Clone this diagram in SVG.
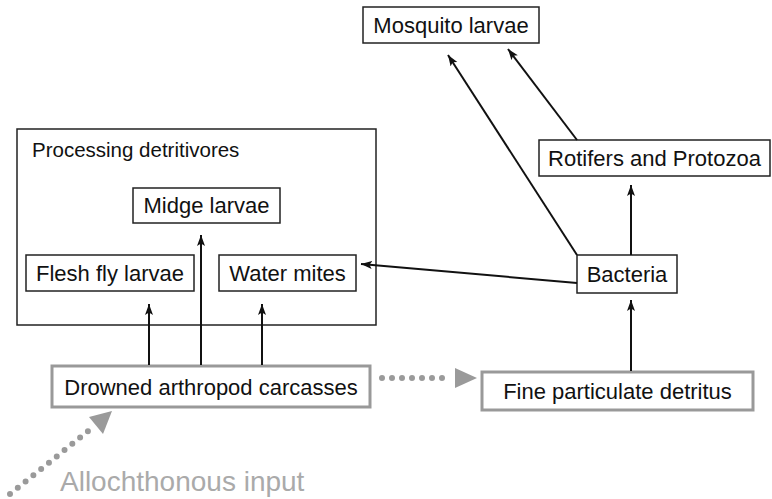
<svg xmlns="http://www.w3.org/2000/svg" width="772" height="499" viewBox="0 0 772 499">
<defs>
<style>
.box{fill:#fff;stroke:#222;stroke-width:1.5}
.gbox{fill:#fff;stroke:#999;stroke-width:3}
.lbl{font-family:"Liberation Sans",Arial,sans-serif;font-size:22px;fill:#111;text-anchor:middle}
.ln{stroke:#111;stroke-width:2;fill:none;marker-end:url(#ah)}
.dot{stroke:#9a9a9a;stroke-width:6;stroke-linecap:round;stroke-dasharray:0 10;fill:none}
</style>
<marker id="ah" markerUnits="userSpaceOnUse" markerWidth="12" markerHeight="10" refX="11" refY="4" orient="auto">
<path d="M0,0 L11,4 L0,8 L2.5,4 Z" fill="#111"/>
</marker>
</defs>
<rect width="772" height="499" fill="#fff"/>
<g id="processing">
<rect class="box" x="17" y="129" width="359" height="196"/>
<text x="32" y="157" style="font-family:'Liberation Sans',Arial,sans-serif;font-size:20.5px;fill:#111">Processing detritivores</text>
</g>
<g id="mosquito"><rect class="box" x="363" y="7" width="176" height="36"/><text class="lbl" x="451" y="33">Mosquito larvae</text></g>
<g id="midge"><rect class="box" x="133" y="188" width="147" height="35"/><text class="lbl" x="206.5" y="213">Midge larvae</text></g>
<g id="flesh"><rect class="box" x="26" y="255" width="168" height="36"/><text class="lbl" x="110" y="281">Flesh fly larvae</text></g>
<g id="mites"><rect class="box" x="219" y="255" width="137" height="36"/><text class="lbl" x="287.5" y="281">Water mites</text></g>
<g id="rotifers"><rect class="box" x="539" y="140" width="231" height="36"/><text class="lbl" x="654.5" y="166">Rotifers and Protozoa</text></g>
<g id="bacteria"><rect class="box" x="577" y="255" width="100" height="38"/><text class="lbl" x="627" y="282">Bacteria</text></g>
<g id="drowned"><rect class="gbox" x="52" y="366" width="318" height="41"/><text class="lbl" x="211" y="395">Drowned arthropod carcasses</text></g>
<g id="fine"><rect class="gbox" x="482" y="372" width="271" height="38"/><text class="lbl" x="617.5" y="399">Fine particulate detritus</text></g>
<g id="allochthonous"><text x="60" y="491" style="font-family:'Liberation Sans',Arial,sans-serif;font-size:28px;fill:#aaa">Allochthonous input</text></g>
<g id="connectors">
<line class="ln" x1="149" y1="365" x2="149" y2="304"/>
<line class="ln" x1="201" y1="365" x2="201" y2="235"/>
<line class="ln" x1="262" y1="365" x2="262" y2="304"/>
<line class="ln" x1="577" y1="283" x2="361" y2="264"/>
<line class="ln" x1="631" y1="255" x2="631" y2="185"/>
<line class="ln" x1="631" y1="371" x2="631" y2="300"/>
<line class="ln" x1="577" y1="255" x2="448" y2="55"/>
<line class="ln" x1="577" y1="140" x2="508" y2="49"/>
<line class="dot" x1="382" y1="378" x2="452" y2="378"/>
<path d="M455,368 L477,378 L455,388 Z" fill="#9a9a9a"/>
<line class="dot" x1="10" y1="494" x2="92" y2="428"/>
<path d="M112,411 L103,434 L89,417 Z" fill="#9a9a9a"/>
</g>
</svg>
